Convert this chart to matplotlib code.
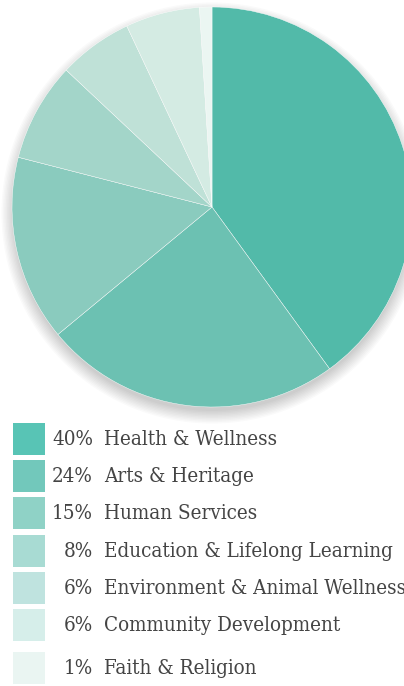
import matplotlib
matplotlib.use("Agg")
import matplotlib.pyplot as plt
from matplotlib.patches import Circle, Rectangle

# Share of volunteer hours by cause area
causes = [
    "Health & Wellness",
    "Arts & Heritage",
    "Human Services",
    "Education & Lifelong Learning",
    "Environment & Animal Wellness",
    "Community Development",
    "Faith & Religion",
]
shares = [40, 24, 15, 8, 6, 6, 1]
slice_colors = ["#52baa9", "#6cc1b2", "#8acbbe", "#a3d5c9", "#bfe1d7", "#d4ebe3", "#ebf6f2"]
legend_colors = ["#58c4b5", "#72c8bb", "#8fd2c6", "#a8dbd3", "#bfe3df", "#d6eeea", "#eaf5f2"]

W, H = 404, 686
fig = plt.figure(figsize=(W / 100, H / 100), dpi=100)
fig.patch.set_facecolor("white")

# pie axes: centre (212, 207) px, radius 200 px
cx, cy, r = 212, 207, 200
ax = fig.add_axes([(cx - r) / W, (H - cy - r) / H, 2 * r / W, 2 * r / H])

# soft drop shadow, mostly below the pie
for i in range(10):
    ax.add_patch(Circle((0.0, -0.03), 0.99 + 0.007 * i, color="#000000",
                        alpha=0.018, lw=0, zorder=0, clip_on=False))

ax.pie(shares, colors=slice_colors, startangle=90, counterclock=False,
       radius=1.0, wedgeprops=dict(edgecolor="white", linewidth=0.3, zorder=2))
ax.set_xlim(-1, 1)
ax.set_ylim(-1, 1)
ax.set_aspect("equal")
ax.axis("off")

# legend drawn in pixel coordinates
lg = fig.add_axes([0, 0, 1, 1])
lg.set_xlim(0, W)
lg.set_ylim(H, 0)
lg.axis("off")
lg.patch.set_alpha(0)

font = dict(family="DejaVu Serif", stretch="condensed", fontsize=14.8, color="#454545")
for i, (name, pct, col) in enumerate(zip(causes, shares, legend_colors)):
    top = 423 + i * 37.2 + (6 if i == len(causes) - 1 else 0)
    lg.add_patch(Rectangle((13, top), 32, 32, color=col, lw=0))
    yc = top + 16.5
    lg.text(93, yc, f"{pct}%", ha="right", va="center", **font)
    lg.text(104, yc, name, ha="left", va="center", **font)

fig.savefig("out.png", dpi=100)
